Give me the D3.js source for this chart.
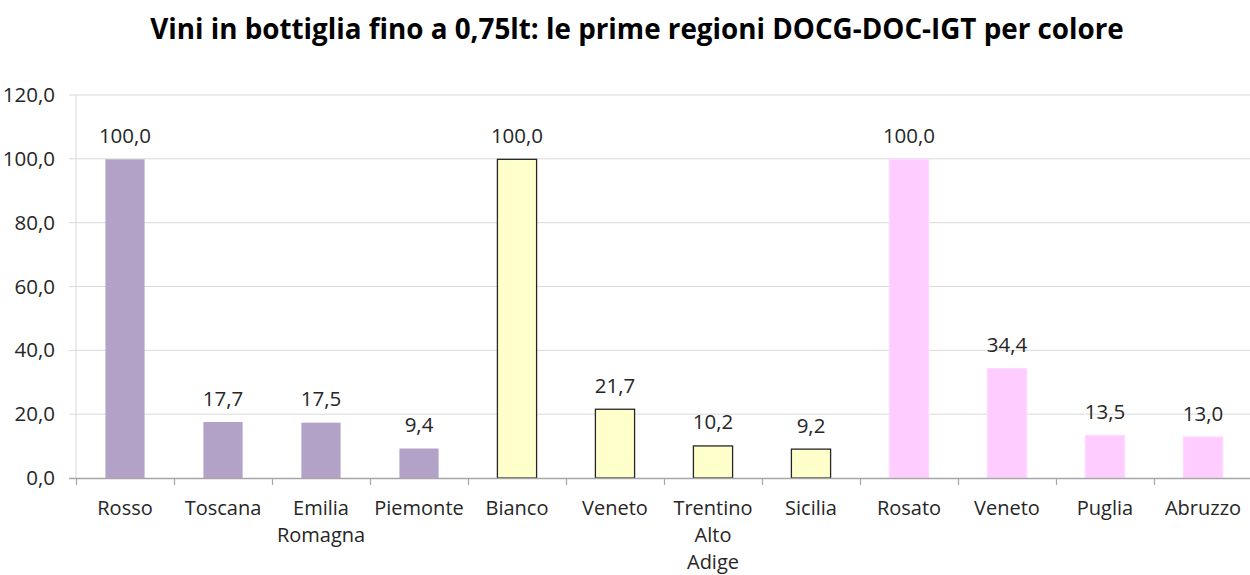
<!DOCTYPE html>
<html>
<head>
<meta charset="utf-8">
<script src="https://cdn.jsdelivr.net/npm/d3@7"></script>
<style>
  body { margin: 0; background: #fff; }
  svg { display: block; font-family: "Open Sans", sans-serif; }
</style>
</head>
<body>
<svg id="chart" width="1250" height="575"></svg>
<script>
var categories = ["Rosso", "Toscana", "Emilia Romagna", "Piemonte", "Bianco", "Veneto", "Trentino Alto Adige", "Sicilia", "Rosato", "Veneto ", "Puglia", "Abruzzo"];
var values = [100.0, 17.7, 17.5, 9.4, 100.0, 21.7, 10.2, 9.2, 100.0, 34.4, 13.5, 13.0];
var groups = ["rosso", "rosso", "rosso", "rosso", "bianco", "bianco", "bianco", "bianco", "rosato", "rosato", "rosato", "rosato"];
var yTicks = [0, 20, 40, 60, 80, 100, 120];
var title = "Vini in bottiglia fino a 0,75lt: le prime regioni DOCG-DOC-IGT per colore";

(function () {
    var svg = d3.select("#chart");
    var left = 76, right = 1252, top = 95, bottom = 478;

    var fill = { rosso: "#b3a2c7", bianco: "#ffffcc", rosato: "#ffccff" };
    var stroke = { rosso: "none", bianco: "#262626", rosato: "#ffd9ff" };

    var x = d3.scaleBand().domain(categories).range([left, right]).paddingInner(0.59).paddingOuter(0.295);
    var y = d3.scaleLinear().domain([0, 120]).range([bottom, top]);
    var fmt = function (v) { return d3.format(".1f")(v).replace(".", ","); };

    svg.append("text")
        .attr("x", 637).attr("y", 39)
        .attr("text-anchor", "middle")
        .attr("font-size", "27.8px").attr("font-weight", "bold")
        .attr("fill", "#000")
        .text(title);

    // gridlines
    svg.append("g")
        .selectAll("line")
        .data(yTicks.filter(d => d > 0))
        .join("line")
        .attr("x1", left - 7).attr("x2", 1250)
        .attr("y1", d => y(d)).attr("y2", d => y(d))
        .attr("stroke", "#d9d9d9").attr("stroke-width", 1);

    // y labels
    svg.append("g")
        .selectAll("text")
        .data(yTicks)
        .join("text")
        .attr("x", 55).attr("y", d => y(d) + 7)
        .attr("text-anchor", "end")
        .attr("font-size", "20.5px").attr("fill", "#262626")
        .text(d => fmt(d));

    // y axis line
    svg.append("line")
        .attr("x1", left).attr("x2", left).attr("y1", top).attr("y2", bottom)
        .attr("stroke", "#d9d9d9");

    // bars
    svg.append("g")
        .selectAll("rect")
        .data(values)
        .join("rect")
        .attr("x", (d, i) => x(categories[i]) + 0.5)
        .attr("y", d => y(d) + 0.5)
        .attr("width", x.bandwidth() - 1)
        .attr("height", d => bottom - y(d) - 0.5)
        .attr("fill", (d, i) => fill[groups[i]])
        .attr("stroke", (d, i) => stroke[groups[i]])
        .attr("stroke-width", 1.3);

    // value labels
    svg.append("g")
        .selectAll("text")
        .data(values)
        .join("text")
        .attr("x", (d, i) => x(categories[i]) + x.bandwidth() / 2)
        .attr("y", d => y(d) - 16)
        .attr("text-anchor", "middle")
        .attr("font-size", "20.5px").attr("fill", "#262626")
        .text(d => fmt(d));

    // x axis
    svg.append("line")
        .attr("x1", left - 7).attr("x2", 1250).attr("y1", bottom + 0.5).attr("y2", bottom + 0.5)
        .attr("stroke", "#a6a6a6").attr("stroke-width", 1.5);
    svg.append("g")
        .selectAll("line")
        .data(d3.range(categories.length + 1))
        .join("line")
        .attr("x1", i => left + i * x.step() + 0.5)
        .attr("x2", i => left + i * x.step() + 0.5)
        .attr("y1", bottom).attr("y2", bottom + 7)
        .attr("stroke", "#a6a6a6").attr("stroke-width", 1.2);

    var labels = svg.append("g")
        .selectAll("text")
        .data(categories)
        .join("text")
        .attr("text-anchor", "middle")
        .attr("font-size", "20px").attr("fill", "#262626")
        .attr("transform", d => "translate(" + (x(d) + x.bandwidth() / 2) + ",515)");
    labels.selectAll("tspan")
        .data(d => d.trim().split(" "))
        .join("tspan")
        .attr("x", 0)
        .attr("y", (d, i) => i * 27)
        .text(d => d);
})();
</script>
</body>
</html>
